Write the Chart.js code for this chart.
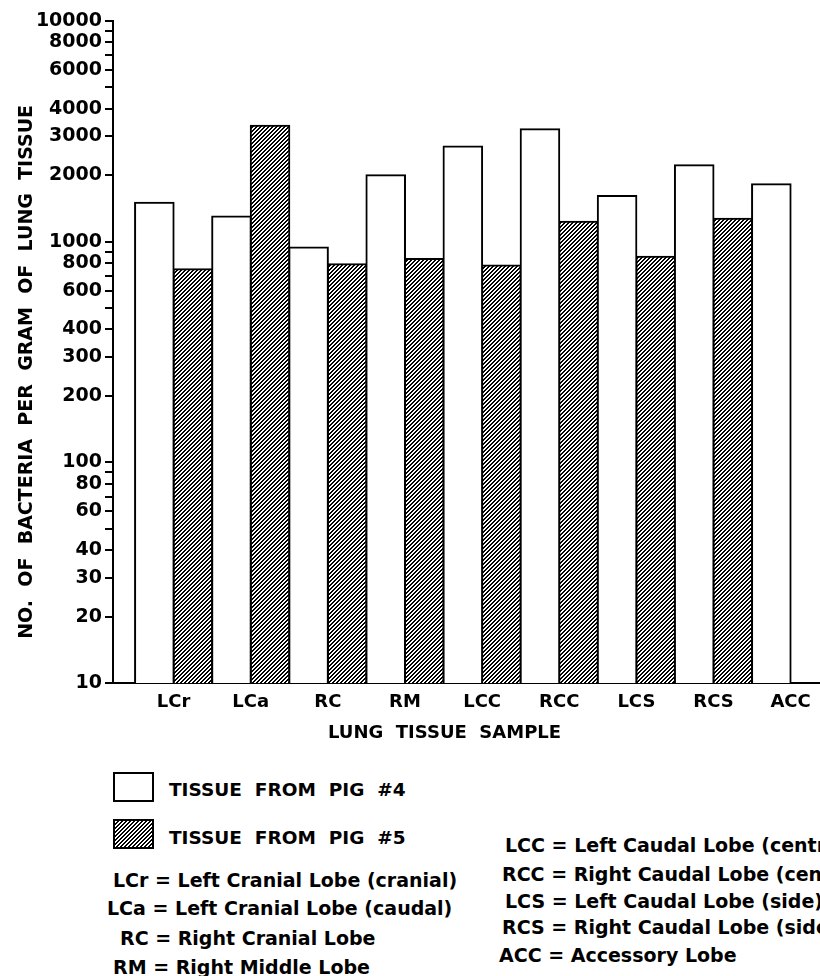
<!DOCTYPE html>
<html>
<head>
<meta charset="utf-8">
<title>Bacterias por gramo de tejido pulmonar</title>
<script src="https://cdn.jsdelivr.net/npm/chart.js@4.4.1/dist/chart.umd.min.js"></script>
<style>
  html, body { margin: 0; padding: 0; background: #fff; }
  body {
    width: 820px; height: 976px; overflow: hidden; position: relative;
    font-family: 'DejaVu Sans', sans-serif; font-weight: bold; color: #000;
  }
  #caja { position: absolute; left: 0; top: 0; width: 820px; height: 760px; }
  .muestra { position: absolute; left: 113px; width: 41px; height: 30px; box-sizing: border-box; border: 2px solid #000; }
  .texto { position: absolute; white-space: pre; line-height: 1; }
  .leyenda { left: 169px; font-size: 18.5px; }
  .abrev { font-size: 19px; }
</style>
</head>
<body>
<div id="caja"><canvas id="grafico" width="820" height="760"></canvas></div>
<div id="leyenda"></div>
<div id="abreviaturas"></div>
<script>
// Datos
const categorias = ['LCr', 'LCa', 'RC', 'RM', 'LCC', 'RCC', 'LCS', 'RCS', 'ACC'];
const cerdo4 = [1500, 1300, 940, 2000, 2700, 3230, 1610, 2220, 1820];
const cerdo5 = [750, 3350, 790, 835, 780, 1230, 855, 1270, null];
const etiquetasSerie = ['TISSUE  FROM  PIG  #4', 'TISSUE  FROM  PIG  #5'];

// Marcas del eje Y (todas) y las que llevan número
const marcasY = [10, 20, 30, 40, 50, 60, 70, 80, 90,
  100, 200, 300, 400, 500, 600, 700, 800, 900,
  1000, 2000, 3000, 4000, 5000, 6000, 7000, 8000, 9000, 10000];
const etiquetasY = [10, 20, 30, 40, 60, 80, 100, 200, 300, 400, 600, 800,
  1000, 2000, 3000, 4000, 6000, 8000, 10000];

const abrevIzq = [
  'LCr = Left Cranial Lobe (cranial)',
  'LCa = Left Cranial Lobe (caudal)',
  'RC = Right Cranial Lobe',
  'RM = Right Middle Lobe'
];
const abrevDer = [
  'LCC = Left Caudal Lobe (central)',
  'RCC = Right Caudal Lobe (central)',
  'LCS = Left Caudal Lobe (side)',
  'RCS = Right Caudal Lobe (side)',
  'ACC = Accessory Lobe'
];

// Posiciones de los textos de abajo (x, y superior)
const posIzq = [[113, 871], [107, 899], [120, 929], [113, 958]];
const posDer = [[505, 836], [502, 865], [505, 892], [502, 918], [499, 946]];
const posLeyenda = [[772, 781], [819, 829]];

const fuente = 'DejaVu Sans';

// Trama rayada para el cerdo #5
function crearTrama() {
  const t = document.createElement('canvas');
  t.width = 4;
  t.height = 4;
  const c = t.getContext('2d');
  c.fillStyle = '#000';
  c.fillRect(0, 0, 4, 4);
  c.fillStyle = '#fff';
  for (let x = 0; x < 4; x++) {
    for (let y = 0; y < 4; y++) {
      if ((x + y) % 4 === 0 || (x + y) % 4 === 1) c.fillRect(x, y, 1, 1);
    }
  }
  return t;
}

const lienzo = document.getElementById('grafico');
const ctx = lienzo.getContext('2d');
const tile = crearTrama();
const trama = ctx.createPattern(tile, 'repeat');

const estiloBarra = {
  borderColor: '#000',
  borderWidth: 2,
  inflateAmount: 1,
  borderSkipped: 'start'
};

const grafico = new Chart(ctx, {
  type: 'bar',
  data: {
    datasets: [
      Object.assign({
        label: etiquetasSerie[0],
        data: cerdo4.map((v, i) => ({ x: i, y: v })),
        backgroundColor: '#fff'
      }, estiloBarra),
      Object.assign({
        label: etiquetasSerie[1],
        data: cerdo5.map((v, i) => ({ x: i, y: v })),
        backgroundColor: trama
      }, estiloBarra)
    ]
  },
  options: {
    responsive: false,
    animation: false,
    layout: { padding: { top: 21, right: 0, bottom: 0, left: 0 } },
    plugins: {
      legend: { display: false },
      tooltip: { enabled: false }
    },
    datasets: {
      bar: { categoryPercentage: 1, barPercentage: 1 }
    },
    scales: {
      x: {
        type: 'linear',
        offset: false,
        min: -0.786,
        max: 8.381,
        afterBuildTicks: (s) => { s.ticks = categorias.map((_, i) => ({ value: i })); },
        afterFit: (s) => { s.height = 77; },
        grid: { display: false, drawTicks: false },
        border: { display: true, color: '#000', width: 2 },
        ticks: {
          autoSkip: false,
          maxRotation: 0,
          padding: 9,
          color: '#000',
          font: { family: fuente, size: 18, weight: 'bold' },
          callback: (v) => categorias[v]
        },
        title: {
          display: true,
          text: 'LUNG  TISSUE  SAMPLE       ',
          color: '#000',
          font: { family: fuente, size: 18, weight: 'bold' },
          padding: { top: 0, bottom: 16 }
        }
      },
      y: {
        type: 'logarithmic',
        min: 10,
        max: 10000,
        afterBuildTicks: (s) => { s.ticks = marcasY.map((v) => ({ value: v })); },
        afterFit: (s) => { s.width = 113; },
        grid: {
          display: true,
          drawOnChartArea: false,
          drawTicks: true,
          tickLength: 8,
          color: '#000',
          lineWidth: 2
        },
        border: { display: true, color: '#000', width: 2 },
        ticks: {
          autoSkip: false,
          padding: 3,
          color: '#000',
          font: { family: fuente, size: 19, weight: 'bold' },
          callback: (v) => (etiquetasY.includes(v) ? String(v) : '')
        },
        title: {
          display: true,
          text: 'NO.  OF  BACTERIA  PER  GRAM  OF  LUNG  TISSUE      ',
          color: '#000',
          font: { family: fuente, size: 19, weight: 'bold' },
          padding: { top: 16, bottom: 0 }
        }
      }
    }
  }
});

// Leyenda en HTML a partir de los datasets
const leyenda = document.getElementById('leyenda');
grafico.data.datasets.forEach((ds, i) => {
  const caja = document.createElement('div');
  caja.className = 'muestra';
  caja.style.top = posLeyenda[i][0] + 'px';
  if (ds.backgroundColor === trama) {
    caja.style.backgroundImage = 'url(' + tile.toDataURL() + ')';
  } else {
    caja.style.background = ds.backgroundColor;
  }
  leyenda.appendChild(caja);

  const txt = document.createElement('div');
  txt.className = 'texto leyenda';
  txt.style.top = posLeyenda[i][1] + 'px';
  txt.textContent = ds.label;
  leyenda.appendChild(txt);
});

// Lista de abreviaturas
const abrev = document.getElementById('abreviaturas');
function ponerTextos(lista, pos) {
  lista.forEach((t, i) => {
    const d = document.createElement('div');
    d.className = 'texto abrev';
    d.style.left = pos[i][0] + 'px';
    d.style.top = pos[i][1] + 'px';
    d.textContent = t;
    abrev.appendChild(d);
  });
}
ponerTextos(abrevIzq, posIzq);
ponerTextos(abrevDer, posDer);
</script>
</body>
</html>
